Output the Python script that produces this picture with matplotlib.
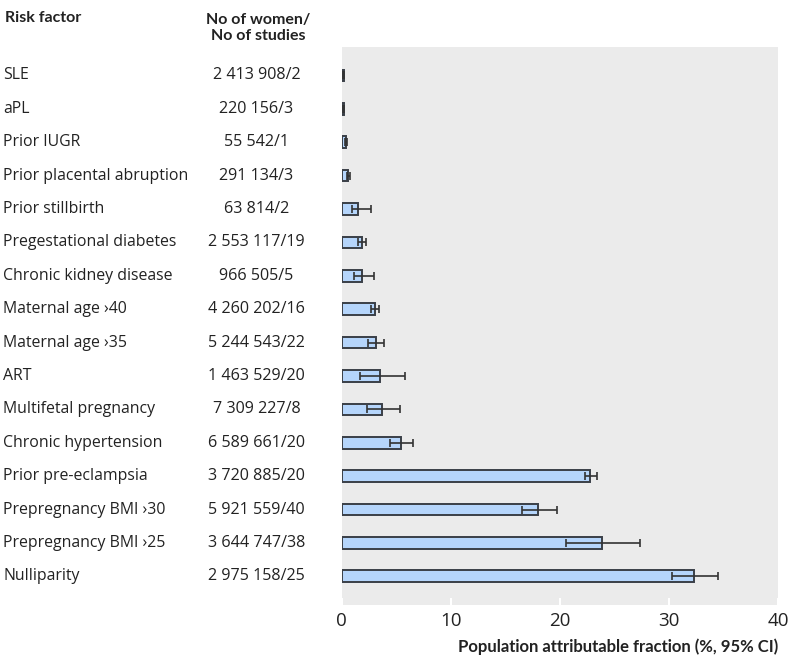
import matplotlib.pyplot as plt
import numpy as np

plt.rcParams['font.family'] = ['Open Sans', 'DejaVu Sans']

factors = ['SLE', 'aPL', 'Prior IUGR', 'Prior placental abruption',
           'Prior stillbirth', 'Pregestational diabetes', 'Chronic kidney disease',
           'Maternal age \u203a40', 'Maternal age \u203a35', 'ART',
           'Multifetal pregnancy', 'Chronic hypertension', 'Prior pre-eclampsia',
           'Prepregnancy BMI \u203a30', 'Prepregnancy BMI \u203a25', 'Nulliparity']
counts = ['2 413 908/2', '220 156/3', '55 542/1', '291 134/3', '63 814/2',
          '2 553 117/19', '966 505/5', '4 260 202/16', '5 244 543/22',
          '1 463 529/20', '7 309 227/8', '6 589 661/20', '3 720 885/20',
          '5 921 559/40', '3 644 747/38', '2 975 158/25']
paf = [0.2, 0.2, 0.37, 0.55, 1.47, 1.83, 1.89, 3.02, 3.11, 3.54, 3.72, 5.4,
       22.8, 17.96, 23.83, 32.3]
ci_low = [0.15, 0.15, 0.3, 0.45, 0.97, 1.47, 1.1, 2.65, 2.44, 1.68, 2.29, 4.4,
          22.3, 16.5, 20.56, 30.25]
ci_high = [0.25, 0.25, 0.5, 0.8, 2.65, 2.23, 2.93, 3.42, 3.88, 5.8, 5.3, 6.53,
           23.37, 19.7, 27.37, 34.5]

bold_font = ['Lato', 'DejaVu Sans']

fig = plt.figure(figsize=(7.9, 6.58), dpi=100)
ax = fig.add_axes([0.4325, 0.081, 0.5525, 0.8475])
ax.set_facecolor('#ebebeb')

y = np.arange(len(factors))
err = [np.array(paf) - np.array(ci_low), np.array(ci_high) - np.array(paf)]
ax.barh(y, paf, height=0.35, color='#b5d5fb', edgecolor='#3a3f47', linewidth=1.4)
ax.errorbar(paf, y, xerr=err, fmt='none', ecolor='#333333', elinewidth=1.2,
            capsize=3, capthick=1.2)

ax.set_ylim(15.85, -0.85)
ax.set_xlim(0, 40)
ax.set_yticks([])
ax.set_xticks([0, 10, 20, 30, 40])
ax.tick_params(axis='x', direction='in', length=5, color='white', width=1.5,
               labelsize=13.5, labelcolor='#222222', pad=5)
for s in ax.spines.values():
    s.set_visible(False)
ax.set_xlabel('Population attributable fraction (%, 95% CI)', fontsize=12,
              fontweight='bold', family=bold_font, loc='right', labelpad=6,
              color='#222222')

for i in range(len(factors)):
    ax.text(-0.775, i, factors[i], transform=ax.get_yaxis_transform(),
            ha='left', va='center', fontsize=11.4, color='#222222')
    ax.text(-0.195, i, counts[i], transform=ax.get_yaxis_transform(),
            ha='center', va='center', fontsize=11.6, color='#222222')

fig.text(5 / 790, 1 - 18 / 658, 'Risk factor', ha='left', va='center',
         fontsize=11.5, fontweight='bold', family=bold_font, color='#222222')
fig.text(258 / 790, 1 - 28 / 658, 'No of women/\nNo of studies', ha='center',
         va='center', fontsize=11.5, fontweight='bold', family=bold_font,
         color='#222222', linespacing=1.25)

fig.savefig('out.png', dpi=100)
